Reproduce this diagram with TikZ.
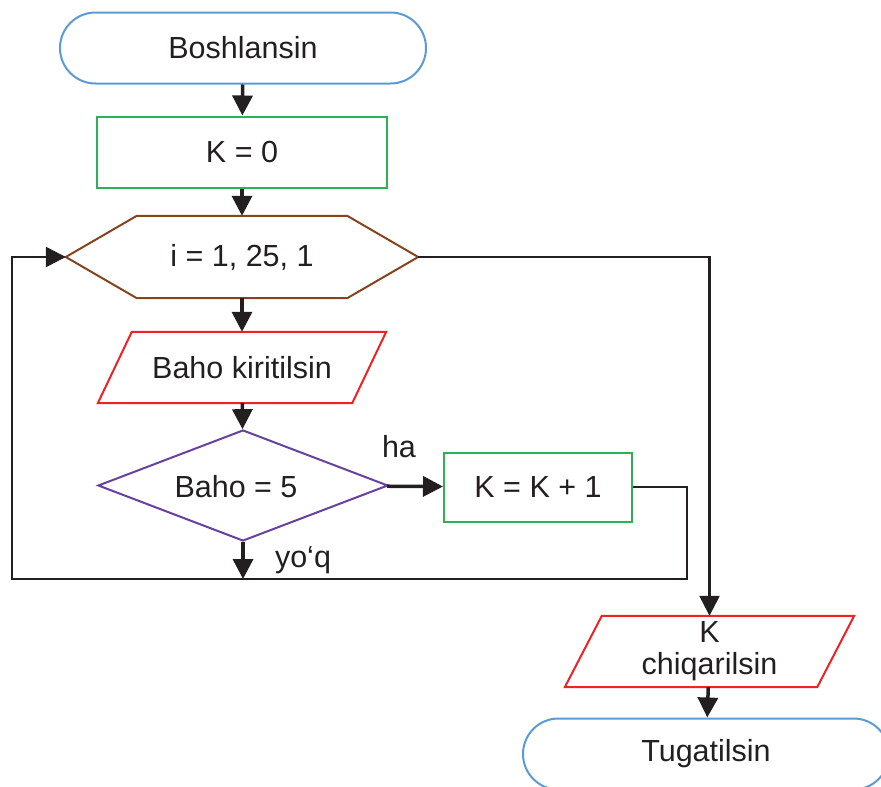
\documentclass[tikz,border=0pt]{standalone}
\usepackage{fontspec}
\setmainfont{Liberation Sans}
\usepackage{tikz}
\definecolor{termblue}{RGB}{91,155,213}
\definecolor{procgreen}{RGB}{46,177,84}
\definecolor{loopbrown}{RGB}{133,68,30}
\definecolor{iored}{RGB}{237,34,36}
\definecolor{condpurple}{RGB}{102,65,160}
\definecolor{linegray}{RGB}{35,31,32}
\usetikzlibrary{arrows.meta, shapes.geometric, shapes.misc}

\begin{document}
\begin{tikzpicture}[x=1pt, y=-1pt,
        >={Triangle[length=20pt,width=20pt]},   %Pfeilspitzen
        every node/.style={font=\fontsize{30.5}{32}\selectfont, text=linegray, inner sep=0pt},
        term/.style={draw=termblue, line width=2pt, rounded rectangle, minimum width=366pt, minimum height=71pt},
        proc/.style={draw=procgreen, line width=2pt, rectangle, minimum height=71pt},
        box/.style={rectangle, minimum width=#1, minimum height=71pt, align=center},
        hexline/.style={draw=loopbrown, line width=2pt, line join=miter},
        ioline/.style={draw=iored, line width=2pt, line join=miter},
        decision/.style={draw=condpurple, line width=2pt, diamond, aspect=2.61, minimum width=290pt, minimum height=111pt},
        conn/.style={draw=linegray, line width=2.5pt},
        flow/.style={draw=linegray, line width=3.5pt, ->}]
        %Bildbereich
        \useasboundingbox (0,0) rectangle (881,787);
        \clip (0,0) rectangle (881,787);
        %Bloecke
        \node[term] (start) at (243,48) {Boshlansin};
        \node[proc, minimum width=290pt] (k0) at (242,152) {K = 0};
        \node[box=352pt, minimum height=82pt] (loop) at (242,257) {i = 1, 25, 1};
        \node[box=288pt] (input) at (242,367.5) {Baho kiritilsin};
        \node[decision] (cond) at (243,485.5) {};
        \node (condtxt) at (236,487) {Baho = 5};
        \node[proc, minimum width=188pt, minimum height=69pt] (inc) at (538,487) {K = K + 1};
        \node[box=289pt] (output) at (709.5,651.5) {K\\chiqarilsin};
        \node[term] (stop) at (706,754) {Tugatilsin};
        %Sechseck und Parallelogramme
        \draw[hexline] (loop.west) -- ([xshift=71pt]loop.north west) -- ([xshift=-71pt]loop.north east)
            -- (loop.east) -- ([xshift=-71pt]loop.south east) -- ([xshift=71pt]loop.south west) -- cycle;
        \draw[ioline] ([xshift=34pt]input.north west) -- (input.north east)
            -- ([xshift=-34pt]input.south east) -- (input.south west) -- cycle;
        \draw[ioline] ([xshift=37pt]output.north west) -- (output.north east)
            -- ([xshift=-37pt]output.south east) -- (output.south west) -- cycle;
        %Beschriftungen
        \node (ha) at (399,447) {ha};
        \node (yoq) at (303,560) {yo‘q};
        %Hilfspunkte
        \coordinate (back) at (243,579);
        \coordinate (rc) at (687,579);
        \coordinate (lc) at (12,579);
        %Verbindungen
        \draw[flow] (start) -- (k0);
        \draw[flow] (k0) -- (loop);
        \draw[flow] (loop) -- (input);
        \draw[flow] (input) -- (cond);
        \draw[flow] (cond) -- (inc);
        \draw[flow] (cond) -- (back);
        \draw[conn,->] (inc.east) -| (rc) -- (lc) |- (loop.west);
        \draw[conn,->] (loop.east) -| (output.north);
        \draw[flow] (output) -- (stop);
\end{tikzpicture}
\end{document}
